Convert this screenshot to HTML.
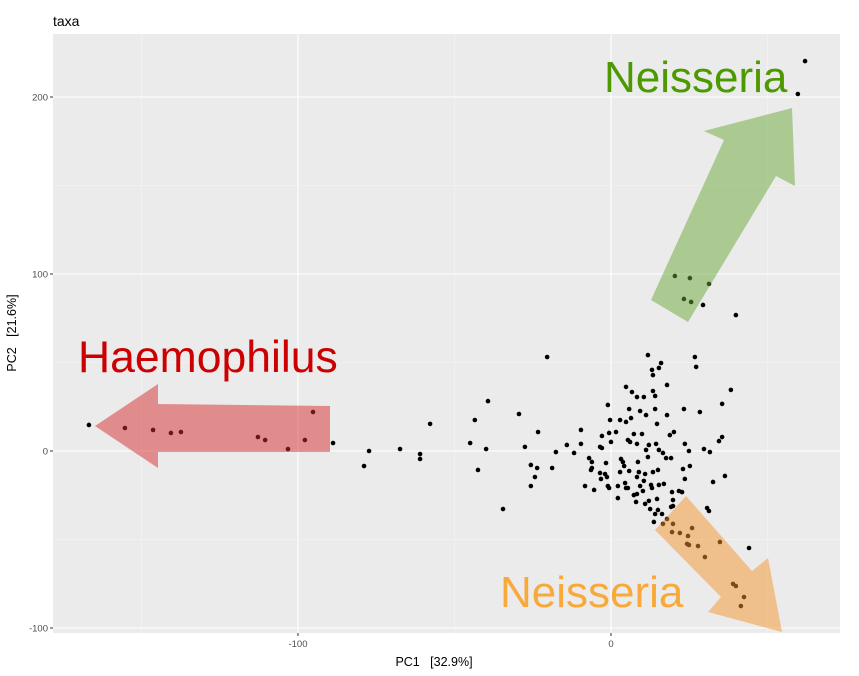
<!DOCTYPE html>
<html><head><meta charset="utf-8">
<style>
html,body{margin:0;padding:0;background:#fff;}
svg{display:block;font-family:"Liberation Sans",Arial,sans-serif;}
text{white-space:pre;}
</style></head>
<body>
<svg id="chart" width="859" height="676" viewBox="0 0 859 676" xml:space="preserve">
  <text x="53" y="26" font-size="14" fill="#000">taxa</text>
  <rect x="53" y="34" width="787" height="599" fill="#ebebeb"/>
  <g id="grid"></g>
  <g id="points"></g>
  <g id="arrows"></g>
  <g id="axes"></g>
  <text x="78" y="372" font-size="44.5" fill="#cc0000">Haemophilus</text>
  <text x="604" y="92" font-size="44" fill="#4d9900">Neisseria</text>
  <text x="500" y="607" font-size="44" fill="#f9a93a">Neisseria</text>
  <text x="434" y="666" font-size="12.5" fill="#000" text-anchor="middle">PC1   [32.9%]</text>
  <text transform="translate(16,333) rotate(-90)" font-size="12.5" fill="#000" text-anchor="middle">PC2   [21.6%]</text>
</svg>
<script>
const xTicks = [-100, 0];
const yTicks = [-100, 0, 100, 200];
const xMinor = [-150, -50, 50];
const yMinor = [-50, 50, 150];
const pcx = [-166.8,-155.3,-146.3,-140.6,-137.4,-112.8,-110.5,-103.2,-97.8,-95.2,-88.8,-78.9,-77.3,-67.4,-61,-61,-57.8,-43.5,-45,-42.5,-39.3,-39.9,-34.5,62,59.7,20.4,25.2,31.3,23.3,25.6,29.4,39.9,44.1,39,39.9,42.5,41.5,-20.4,11.8,26.8,27.2,16,15.3,13.1,13.4,17.9,4.8,6.7,8.3,10.5,13.4,14.1,38.3,-1,5.8,9.3,11.2,14.1,17.9,23.3,28.4,35.5,-29.4,-0.3,2.9,4.8,6.4,14.7,-23.3,-9.6,-2.9,-0.6,1.6,7.3,9.9,18.8,20.1,35.5,34.5,-27.5,-17.6,-14.1,-11.8,-9.6,-3.5,-2.9,0,5.4,6.1,8.3,11.2,12.1,14.4,15.3,16.6,17.6,19.2,23.6,24.9,29.7,31.6,-25.6,-23.6,-18.8,-7,-6.1,-6.4,-6.1,-1.6,3.2,3.8,4.2,11.8,8.6,5.8,2.9,-3.5,-1.9,-1.3,-3.2,10.9,8.9,8.3,13.4,15,23,25.2,23.6,36.4,32.6,-24.3,-25.6,-8.3,-5.4,-1,-0.6,2.2,4.5,4.8,5.4,7.3,8.3,10.2,9.3,10.5,12.8,13.1,15.3,16.9,19.5,21.7,22.7,2.2,8,10.9,12.1,14.7,19.8,19.2,19.8,12.5,15,16.3,14.1,13.7,30.7,31.3,17.9,16.6,19.8,25.9,19.5,22,24.6,24.3,24.9,27.8,30,34.8];
const pcy = [14.7,13,11.9,10.2,10.7,7.9,6.2,1.1,6.2,22,4.5,-8.5,0,1.1,-1.7,-4.5,15.3,17.5,4.5,-10.7,28.2,1.1,-32.8,220.3,201.7,98.9,97.7,94.4,85.9,84.2,82.5,76.8,-54.8,-75.1,-76.3,-82.5,-87.6,53.1,54.2,53.1,47.5,49.7,46.9,45.8,42.9,37.3,36.2,33.3,30.5,30.5,33.9,31.1,34.5,26,23.7,22.6,20.3,23.7,20.3,23.7,22,26.6,20.9,17.5,17.5,16.4,18.6,15.3,10.7,11.9,8.5,10.2,10.7,9.6,9.6,9,10.7,7.9,5.6,2.3,-0.6,3.4,-1.1,4,2.3,1.7,5.1,6.2,5.1,4,0.6,3.4,4,0.6,-1.1,-4,-4,4,0,1.1,-0.6,-7.9,-9.6,-9.6,-4,-6.2,-10.7,-9.6,-6.8,-4.5,-6.2,-8.5,-3.4,-6.2,-11.3,-11.9,-12.4,-13,-14.7,-15.8,-13,-11.9,-14.7,-11.9,-10.7,-10.2,-8.5,-15.8,-14.1,-17.5,-14.7,-19.8,-19.8,-22,-19.8,-20.9,-19.8,-18.1,-20.9,-20.9,-24.9,-24.3,-22.6,-19.8,-16.9,-19.2,-20.9,-19.2,-18.6,-23.2,-22.6,-23.2,-26.6,-28.8,-29.9,-28.2,-27.1,-27.7,-31.6,-31.1,-32.8,-33.3,-35.6,-35.6,-40.1,-32.2,-33.9,-38.4,-41.2,-41.2,-43.5,-45.8,-46.3,-48,-52.5,-53.1,-53.7,-59.9,-51.4];

const NS = 'http://www.w3.org/2000/svg';
const X = v => 611 + v * 3.13;
const Y = v => 451 - v * 1.77;
const P = {l:53, r:840, t:34, b:633};
function mk(tag, attrs, parent){const e=document.createElementNS(NS,tag);for(const k in attrs)e.setAttribute(k,attrs[k]);parent.appendChild(e);return e;}
const grid=document.getElementById('grid'), pts=document.getElementById('points'), axes=document.getElementById('axes'), arr=document.getElementById('arrows');
xMinor.forEach(v=>{const l=mk('line',{x1:X(v),x2:X(v),y1:P.t,y2:P.b,stroke:'#f5f5f5','stroke-width':0.6},grid);

});
yMinor.forEach(v=>{const l=mk('line',{x1:P.l,x2:P.r,y1:Y(v),y2:Y(v),stroke:'#f5f5f5','stroke-width':0.6},grid);

});
xTicks.forEach(v=>{const l=mk('line',{x1:X(v),x2:X(v),y1:P.t,y2:P.b,stroke:'#fff','stroke-width':1.1},grid);


const t=mk('line',{x1:X(v),x2:X(v),y1:P.b,y2:P.b+3,stroke:'#333','stroke-width':1},axes);


const tx=mk('text',{x:X(v),y:P.b+14,'font-size':9.5,fill:'#4d4d4d','text-anchor':'middle'},axes);tx.textContent=v;

});
yTicks.forEach(v=>{const l=mk('line',{x1:P.l,x2:P.r,y1:Y(v),y2:Y(v),stroke:'#fff','stroke-width':1.1},grid);


const t=mk('line',{x1:P.l-3,x2:P.l,y1:Y(v),y2:Y(v),stroke:'#333','stroke-width':1},axes);


const tx=mk('text',{x:P.l-5,y:Y(v)+3.5,'font-size':9.5,fill:'#4d4d4d','text-anchor':'end'},axes);tx.textContent=v;

});
pcx.forEach((v,i)=>{const c=mk('circle',{cx:X(v),cy:Y(pcy[i]),r:2.3,fill:'#000'},pts);

});
const a1=mk('polygon',{points:'330,406 158,404 158,384 95,426 158,468 158,452 330,452',fill:'rgba(215,45,45,0.5)'},arr);


const a2=mk('polygon',{points:'651,300 724,140 704,131 792,108 795,186 776,176 688,322',fill:'rgba(105,170,55,0.5)'},arr);


const a3=mk('polygon',{points:'655,530 721,597 708,612 782,632 768,558 752,571 686,496',fill:'rgba(245,150,45,0.5)'},arr);


</script>
</body></html>
